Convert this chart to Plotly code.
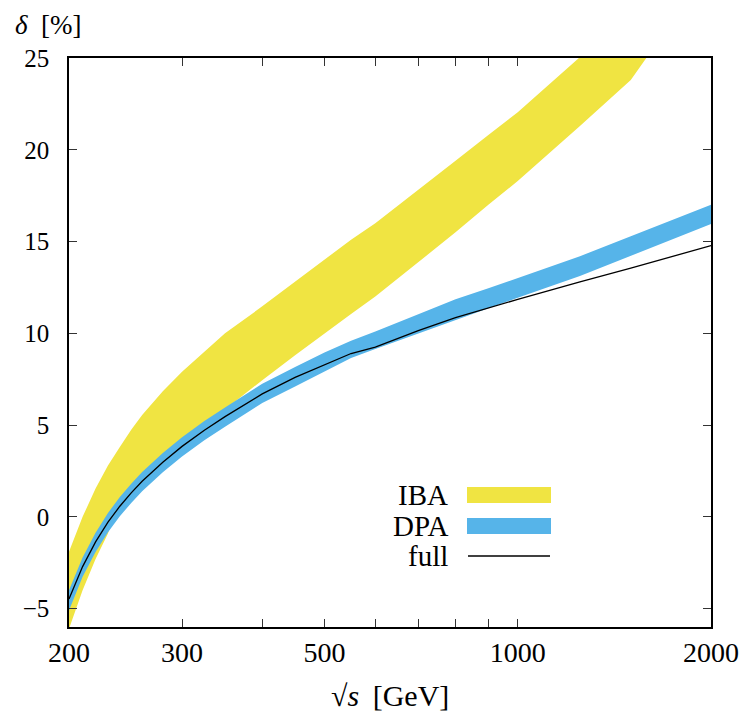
import plotly.graph_objects as go

# centre-of-mass energy grid [GeV]
sqrt_s = [200, 210, 220, 230, 240, 250, 260, 280, 300, 325, 350, 400, 450,
          500, 550, 600, 700, 800, 900, 1000, 1250, 1500, 2000]

# full calculation, relative correction delta [%]
full = [-4.47, -2.71, -1.36, -0.29, 0.58, 1.31, 1.94, 2.98, 3.84, 4.72, 5.46, 6.7, 7.6,
        8.3, 8.9, 9.25, 10.15, 10.85, 11.4, 11.85, 12.8, 13.55, 14.78]

# DPA uncertainty band
dpa_lo = [-5.1, -3.26, -1.91, -0.84, 0.03, 0.76, 1.39, 2.43, 3.29, 4.17, 4.91, 6.2, 7.1,
          7.9, 8.65, 9.15, 10.0, 10.75, 11.37, 11.94, 13.12, 14.22, 15.96]
dpa_hi = [-4.0, -2.21, -0.86, 0.21, 1.08, 1.81, 2.44, 3.48, 4.34, 5.22, 5.96, 7.25, 8.17,
          8.95, 9.6, 10.1, 11.04, 11.85, 12.45, 13.02, 14.2, 15.29, 17.0]

# IBA uncertainty band
iba_lo = [-6.1, -4.0, -2.3, -0.9, 0.9, 1.7, 2.3, 3.35, 4.2, 5.1, 5.85, 7.45, 8.8,
          10.0, 11.05, 12.0, 13.85, 15.5, 17.0, 18.3, 21.3, 23.8, 30.0]
iba_hi = [-1.9, 0.0, 1.55, 2.8, 3.8, 4.75, 5.55, 6.85, 7.9, 9.0, 10.0, 11.47, 12.8,
          14.0, 15.1, 16.0, 17.8, 19.4, 20.8, 22.05, 25.05, 28.0, 33.0]

x_tick_vals = [200, 300, 400, 500, 600, 700, 800, 900, 1000, 2000]
x_tick_text = ["200", "300", "", "500", "", "", "", "", "1000", "2000"]
y_tick_vals = [-5, 0, 5, 10, 15, 20, 25]
y_tick_text = ["\u22125", "0", "5", "10", "15", "20", "25"]

legend_names = ["IBA", "DPA", "full"]

YELLOW = "#F0E442"
BLUE = "#56B4E9"
FONT = "Liberation Serif"

fig = go.Figure()


def add_band(lo, hi, color):
    fig.add_trace(go.Scatter(x=sqrt_s, y=lo, mode="lines", line=dict(width=0, color=color),
                             showlegend=False, hoverinfo="skip"))
    fig.add_trace(go.Scatter(x=sqrt_s, y=hi, mode="lines", line=dict(width=0, color=color),
                             fill="tonexty", fillcolor=color, showlegend=False,
                             hoverinfo="skip"))


add_band(iba_lo, iba_hi, YELLOW)
add_band(dpa_lo, dpa_hi, BLUE)
fig.add_trace(go.Scatter(x=sqrt_s, y=full, mode="lines",
                         line=dict(color="black", width=1.3), showlegend=False))

axis_common = dict(
    showline=True, linecolor="black", linewidth=1.5, mirror="allticks",
    ticks="inside", ticklen=8, tickwidth=1, tickcolor="#333",
    showgrid=False, zeroline=False, automargin=False,
)

fig.update_layout(
    width=743, height=719,
    margin=dict(l=69, r=32, t=58, b=92, autoexpand=False),
    paper_bgcolor="white", plot_bgcolor="white",
    xaxis=dict(type="log", range=[2.30103, 3.30103],
               tickvals=x_tick_vals, ticktext=x_tick_text,
               tickfont=dict(family=FONT, size=28, color="black"),
               ticklabelstandoff=0, **axis_common),
    yaxis=dict(range=[-6, 25], tickvals=y_tick_vals, ticktext=y_tick_text,
               tickfont=dict(family=FONT, size=25, color="black"),
               ticklabelstandoff=13, **axis_common),
    showlegend=False,
)

# pixel helpers for items placed around the plotting frame
plot_w = 743 - 69 - 32
plot_h = 719 - 58 - 92


def px(xp):
    return (xp - 69) / plot_w


def py(yp):
    return (719 - 92 - yp) / plot_h


# axis titles
fig.add_annotation(text="<i>\u03b4</i>\u2002[%]", xref="paper", yref="paper",
                   x=px(13), y=py(25), xanchor="left", yanchor="middle", showarrow=False,
                   font=dict(family=FONT, size=27, color="black"))
fig.add_annotation(text="\u221a<i>s</i>\u2009 [GeV]", xref="paper", yref="paper",
                   x=0.5, y=py(695), xanchor="center", yanchor="middle", showarrow=False,
                   font=dict(family=FONT, size=30, color="black"))

# legend
legend_rows = [495, 526, 556]
for name, yc, color in zip(legend_names, legend_rows, [YELLOW, BLUE, None]):
    fig.add_annotation(text=name, xref="paper", yref="paper", x=px(450), y=py(yc),
                       xanchor="right", yanchor="middle", showarrow=False,
                       font=dict(family=FONT, size=29, color="black"))
    if color:
        fig.add_shape(type="rect", xref="paper", yref="paper",
                      x0=px(467), x1=px(551), y0=py(yc - 8), y1=py(yc + 8),
                      fillcolor=color, line=dict(width=0))
    else:
        fig.add_shape(type="line", xref="paper", yref="paper",
                      x0=px(468), x1=px(550), y0=py(yc), y1=py(yc),
                      line=dict(color="black", width=1.3))

fig.write_html("out.html")
